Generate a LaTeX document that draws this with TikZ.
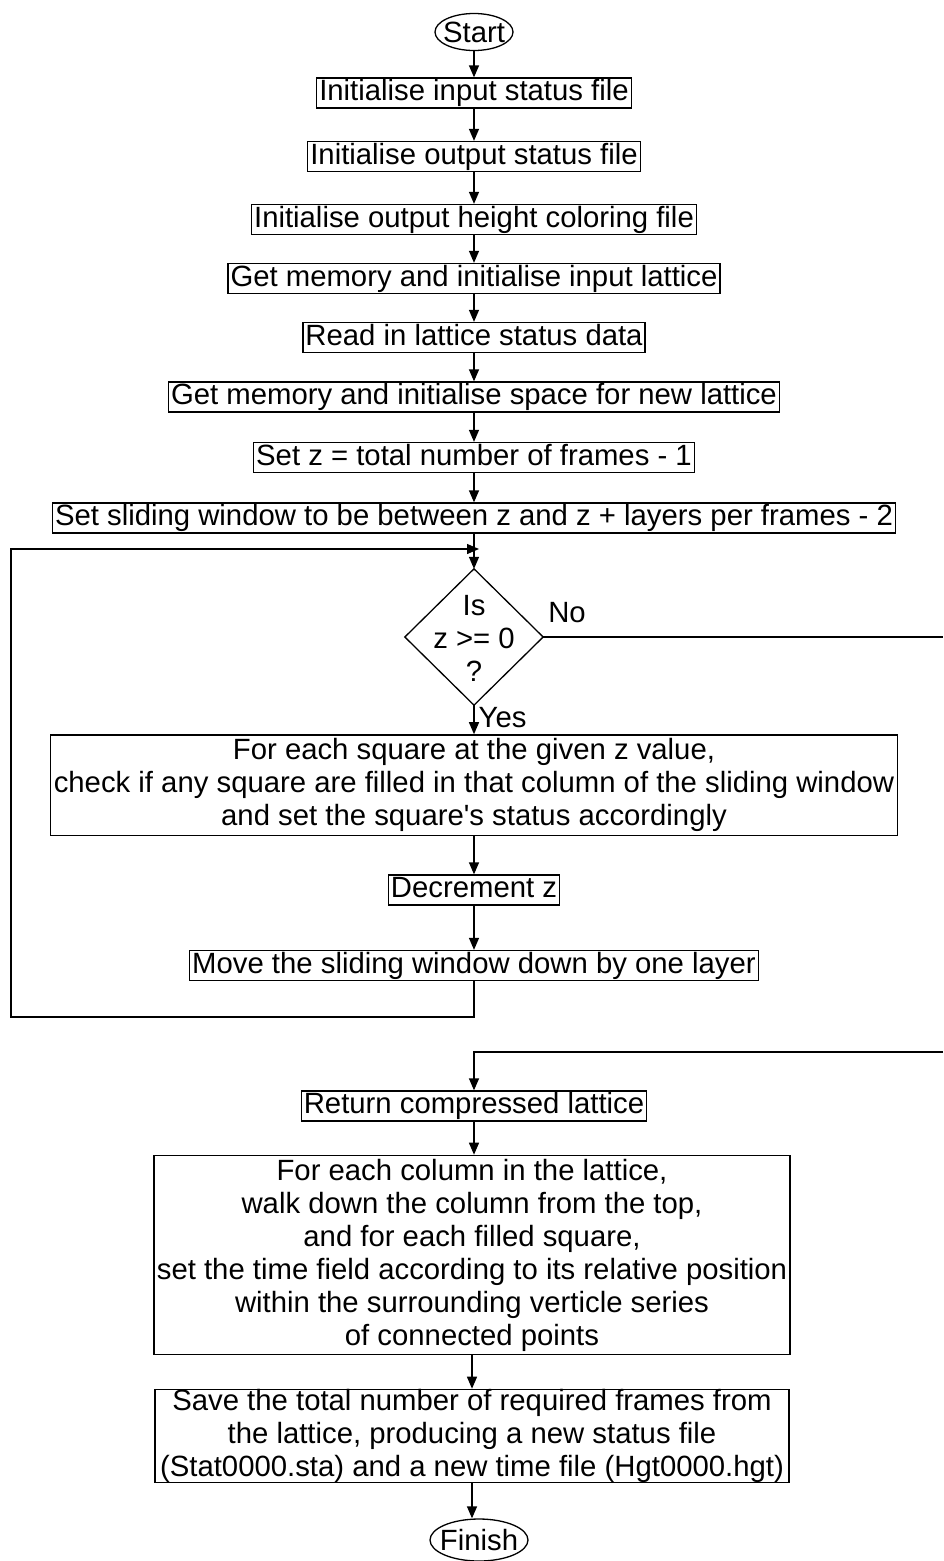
\documentclass[tikz,border=0pt]{standalone}
\usepackage{fontspec}
\setmainfont{Liberation Sans}
\usetikzlibrary{arrows.meta}
% straight apostrophe, set as a glyph so the TeX quote mapping leaves it alone
\newcommand{\straightquote}{\XeTeXglyph\XeTeXcharglyph"27\relax}
\begin{document}
\begin{tikzpicture}[x=1pt,y=-1pt,
  font=\fontsize{29.3}{33}\selectfont,
  every path/.style={line width=1.3pt},
  procbox/.style={draw, rectangle, inner xsep=2.5pt, inner ysep=1.5pt,
    text height=21pt, text depth=6pt, align=center},
  bigbox/.style={draw, rectangle, inner xsep=3pt, inner ysep=3.5pt, align=center},
  terminal/.style={rectangle, inner sep=0pt},
  flow/.style={-{Triangle[length=12pt,width=10pt]}},
  lbl/.style={inner sep=0pt}]
\useasboundingbox (0,0) rectangle (943,1561);

% terminals: rectangular anchors with an elliptic outline
\node[terminal, minimum width=78pt, minimum height=37pt] (start) at (474,32) {Start};
\draw (start.center) ellipse [x radius=39, y radius=18.5];

% initialisation steps
\node[procbox] (b1) at (474,93) {Initialise input status file};
\node[procbox] (b2) at (474,156.5) {Initialise output status file};
\node[procbox] (b3) at (474,219.5) {Initialise output height coloring file};
\node[procbox] (b4) at (474,278.5) {Get memory and initialise input lattice};
\node[procbox] (b5) at (474,337.5) {Read in lattice status data};
\node[procbox] (b6) at (474,397) {Get memory and initialise space for new lattice};
\node[procbox] (b7) at (474,457.5) {Set z = total number of frames - 1};
\node[procbox] (b8) at (474,518) {Set sliding window to be between z and z + layers per frames - 2};

% loop test
\node[rectangle, minimum width=137pt, minimum height=135pt, inner sep=0pt] (dec) at (474,637) {};
\draw (dec.north) -- (dec.east) -- (dec.south) -- (dec.west) -- cycle;
\node[lbl, align=center] (dectxt) at (474,638) {Is\\z >= 0\\?};

% loop body
\node[bigbox] (b9) at (474,785) {For each square at the given z value,\\
  check if any square are filled in that column of the sliding window\\
  and set the square\straightquote s status accordingly};
\node[procbox] (b10) at (474,890) {Decrement z};
\node[procbox] (b11) at (474,965.5) {Move the sliding window down by one layer};

% after the loop
\node[procbox] (b12) at (474,1106) {Return compressed lattice};
\node[bigbox] (b13) at (472,1255) {For each column in the lattice,\\
  walk down the column from the top,\\
  and for each filled square,\\
  set the time field according to its relative position\\
  within the surrounding verticle series\\
  of connected points};
\node[bigbox, inner xsep=5pt, inner ysep=0pt] (b14) at (472,1436) {Save the total number of required frames from\\
  the lattice, producing a new status file\\
  (Stat0000.sta) and a new time file (Hgt0000.hgt)};

\node[terminal, minimum width=98pt, minimum height=42pt] (finish) at (479,1540) {Finish};
\draw (finish.center) ellipse [x radius=49, y radius=21];

% branch labels
\node[lbl] (nolbl) at (567,613) {No};
\node[lbl, anchor=west] (yeslbl) at (478,718) {Yes};

% loop-back and exit helper points
\coordinate (loopA) at (474,1017);
\coordinate (loopB) at (11,1017);
\coordinate (loopC) at (11,549);
\coordinate (loopD) at (479,549);
\coordinate (exitA) at (943,637);
\coordinate (exitB) at (943,1052);
\coordinate (exitC) at (474,1052);

% connectors
\draw[flow] (start.south) -- (b1.north);
\draw[flow] (b1.south) -- (b2.north);
\draw[flow] (b2.south) -- (b3.north);
\draw[flow] (b3.south) -- (b4.north);
\draw[flow] (b4.south) -- (b5.north);
\draw[flow] (b5.south) -- (b6.north);
\draw[flow] (b6.south) -- (b7.north);
\draw[flow] (b7.south) -- (b8.north);
\draw[flow] (b8.south) -- (dec.north);
\draw[flow] (dec.south) -- (b9.north);
\draw[flow] (b9.south) -- (b10.north);
\draw[flow] (b10.south) -- (b11.north);
\draw[flow] (b11.south) -- (loopA) -- (loopB) -- (loopC) -- (loopD);
\draw (dec.east) -- (exitA);
\draw[flow] (exitB) -- (exitC) -- (b12.north);
\draw[flow] (b12.south) -- (b12.south |- b13.north);
\draw[flow] (b13.south) -- (b14.north);
\draw[flow] (b14.south) -- (b14.south |- finish.north);
\end{tikzpicture}
\end{document}
